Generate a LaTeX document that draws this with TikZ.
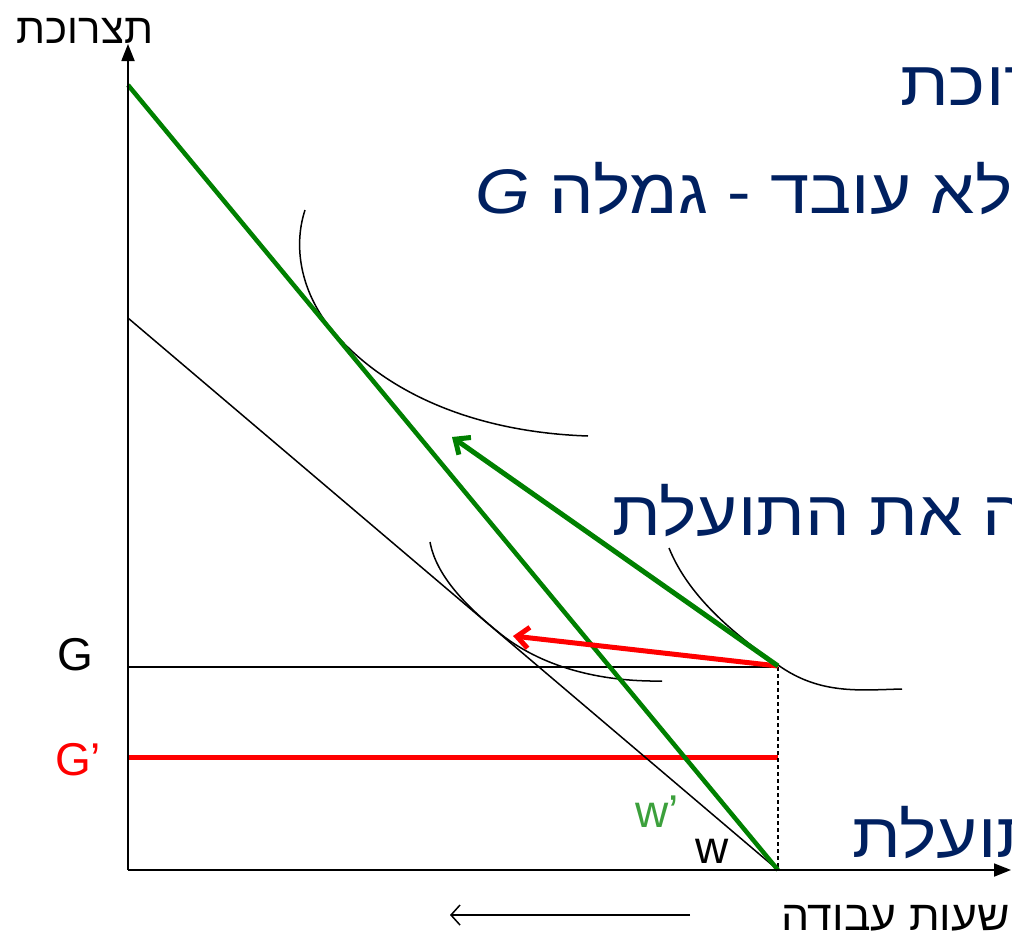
\documentclass[tikz,border=0pt]{standalone}
\usepackage{fontspec}
\setmainfont{Liberation Sans}
\newfontfamily\heb[Script=Hebrew]{Liberation Sans}
\TeXXeTstate=1
\usetikzlibrary{arrows.meta}
\definecolor{navy}{RGB}{0,32,96}
\definecolor{dgreen}{RGB}{0,128,0}
\definecolor{lgreen}{RGB}{60,160,60}
\begin{document}
\begin{tikzpicture}[x=1pt,y=-1pt,
  axis/.style={line width=1.8pt,-{Triangle[length=17pt,width=13pt]}},
  icurve/.style={line width=1.5pt},
  budget/.style={line width=1.5pt},
  gbudget/.style={line width=4.5pt,dgreen},
  shift arrow/.style={line width=5pt,-{Straight Barb[length=12pt,width=21pt]}},
  bluetxt/.style={inner sep=0pt,text=navy,font=\fontsize{63}{66}\selectfont\heb},
  blacktxt/.style={inner sep=0pt,font=\fontsize{42}{45}\selectfont\heb},
  lettertxt/.style={inner sep=0pt,font=\fontsize{46}{50}\selectfont}]
\path[use as bounding box] (0,0) rectangle (1012,935);
\clip (0,0) rectangle (1012,935);
% coordinates
\coordinate (O) at (128,870);
\coordinate (Ytop) at (128,44);
\coordinate (Xend) at (1011,870);
\coordinate (E) at (778,666);
\coordinate (W) at (778,870);
\coordinate (Gl) at (128,667);
\coordinate (Gr) at (778,667);
\coordinate (Gpl) at (128,757);
\coordinate (Gpr) at (778,757);
\coordinate (B1) at (128,318);
\coordinate (B2) at (128,85);
\coordinate (GA) at (452,437);
\coordinate (RA) at (513,636);
\coordinate (Lstart) at (690,915);
\coordinate (Lend) at (450,915);
% blue (cut-off) slide text
\node[bluetxt,anchor=base west] (t1) at (900,105) {\scalebox{1.12}[1]{\beginR תצרוכת\endR}};
\node[bluetxt,anchor=base west] (t2) at (475,213) {\scalebox{1.12}[1]{\beginR לא עובד - גמלה \textit{G}\endR}};
\node[bluetxt,anchor=base west] (t3) at (612,535) {\scalebox{1.12}[1]{\beginR ה את התועלת\endR}};
\node[bluetxt,anchor=base west] (t4) at (852,857) {\scalebox{1.12}[1]{\beginR תועלת\endR}};
% horizontal lines
\draw[line width=2.7pt] (Gl) -- (Gr);
\draw[line width=5pt,red] (Gpl) -- (Gpr);
\draw[line width=1.8pt,dash pattern=on 4pt off 3pt] (Gr) -- (W);
% budget lines
\draw[budget] (B1) -- (W);
% indifference curves
\draw[icurve] (305,210) .. controls (292,250) and (303,295) .. (332,330)
  .. controls (382,390) and (470,432) .. (588,436);
\draw[icurve] (430,542) .. controls (436,575) and (465,605) .. (497,631)
  .. controls (540,667) and (600,682) .. (662,681);
\draw[icurve] (669,548) .. controls (690,600) and (740,638) .. (778,665)
  .. controls (820,695) and (860,690) .. (902,689);
% green budget line
\draw[gbudget] (B2) -- (W);
% arrows
\draw[shift arrow,red] (E) -- (RA);
\draw[shift arrow,dgreen] (E) -- (GA);
% axes
\draw[axis] (O) -- (Ytop);
\draw[axis] (O) -- (Xend);
\draw[line width=1.5pt,-{Straight Barb[length=9pt,width=20pt]}] (Lstart) -- (Lend);
% labels
\node[blacktxt,anchor=base] (ylab) at (85,43) {\beginR תצרוכת\endR};
\node[blacktxt,anchor=base east] (xlab) at (1010,930) {\scalebox{1.06}[1]{\beginR שעות עבודה\endR}};
\node[lettertxt,anchor=base west] (Glab) at (57,670) {G};
\node[lettertxt,anchor=base west,text=red] (Gplab) at (55,775) {G’};
\node[lettertxt,anchor=base west] (wlab) at (695,863) {w};
\node[lettertxt,anchor=base west,text=lgreen] (wplab) at (635,827) {w’};
\end{tikzpicture}
\end{document}
